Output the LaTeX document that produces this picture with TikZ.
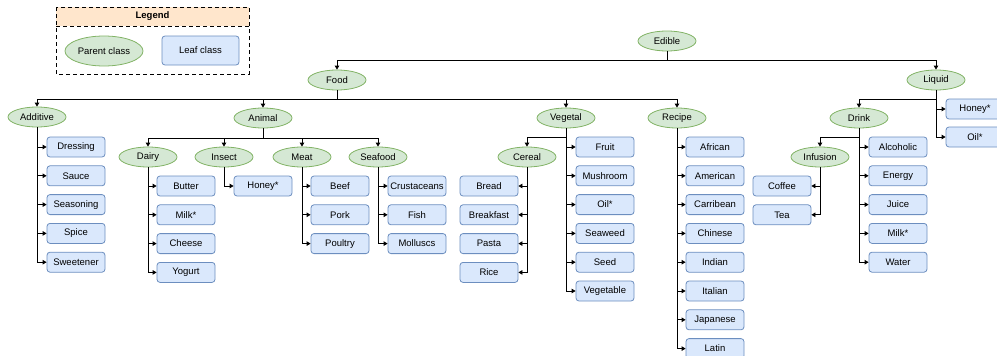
\documentclass[tikz,border=0pt]{standalone}
\usepackage{fontspec}
\setmainfont{Liberation Sans}
\usetikzlibrary{shapes.geometric,arrows.meta}
\definecolor{pgreen}{HTML}{82B366}
\definecolor{fgreen}{HTML}{D5E8D4}
\definecolor{pblue}{HTML}{6C8EBF}
\definecolor{fblue}{HTML}{DAE8FC}
\definecolor{forange}{HTML}{FFE6CC}
\newcommand{\fsz}{\fontsize{9.5}{11}\selectfont}
\tikzset{
  par/.style={ellipse, draw=pgreen, fill=fgreen, line width=0.8pt, minimum width=58pt, minimum height=20pt, inner sep=0pt, font=\fsz},
  leaf/.style={rectangle, rounded corners=3pt, draw=pblue, fill=fblue, line width=0.8pt, minimum width=58pt, minimum height=20pt, inner sep=0pt, font=\fsz},
  arr/.style={-{Triangle[length=4pt,width=4.5pt]}, line width=0.8pt, black},
  legendbox/.style={draw, dashed, dash pattern=on 4pt off 3pt, line width=0.8pt}
}
\begin{document}
\begin{tikzpicture}[x=1pt,y=-1pt]
\useasboundingbox (0,0) rectangle (997,356);
% legend
\fill[forange] (56,7) rectangle (249,26);
\draw[legendbox] (56,7) rectangle (249,74);
\draw[legendbox] (56,26) -- (249,26);
\node[font=\fsz\bfseries] (legtitle) at (152.5,16.5) {Legend};
\node[par, minimum width=78pt, minimum height=30pt] (legpar) at (104,51) {Parent class};
\node[leaf, minimum width=77pt, minimum height=29pt] (legleaf) at (200.5,50.5) {Leaf class};
% parent nodes
\node[par] (edible) at (667,41) {Edible};
\node[par] (food) at (337,80) {Food};
\node[par] (liquid) at (936,80) {Liquid};
\node[par] (additive) at (37,117) {Additive};
\node[par] (animal) at (263,118) {Animal};
\node[par] (vegetal) at (566,118) {Vegetal};
\node[par] (recipe) at (677,118) {Recipe};
\node[par] (drink) at (859,118) {Drink};
\node[par] (dairy) at (148,157) {Dairy};
\node[par] (insect) at (224,157) {Insect};
\node[par] (meat) at (302,157) {Meat};
\node[par] (seafood) at (378,157) {Seafood};
\node[par] (cereal) at (527,157) {Cereal};
\node[par] (infusion) at (820,157) {Infusion};
% leaves
\foreach \n/\t [count=\i from 0] in {dressing/Dressing,sauce/Sauce,seasoning/Seasoning,spice/Spice,sweetener/Sweetener}
  \node[leaf] (\n) at (76,147+28.8*\i) {\t};
\foreach \n/\t [count=\i from 0] in {butter/Butter,milkD/Milk*,cheese/Cheese,yogurt/Yogurt}
  \node[leaf] (\n) at (186,186+28.8*\i) {\t};
\node[leaf] (honeyA) at (263,186) {Honey*};
\foreach \n/\t [count=\i from 0] in {beef/Beef,pork/Pork,poultry/Poultry}
  \node[leaf] (\n) at (340,186+28.8*\i) {\t};
\foreach \n/\t [count=\i from 0] in {crust/Crustaceans,fish/Fish,molluscs/Molluscs}
  \node[leaf] (\n) at (417,186+28.8*\i) {\t};
\foreach \n/\t [count=\i from 0] in {bread/Bread,breakfast/Breakfast,pasta/Pasta,rice/Rice}
  \node[leaf] (\n) at (489,186+28.8*\i) {\t};
\foreach \n/\t [count=\i from 0] in {fruit/Fruit,mushroom/Mushroom,oilV/Oil*,seaweed/Seaweed,seed/Seed,vegetable/Vegetable}
  \node[leaf] (\n) at (605,147+28.8*\i) {\t};
\foreach \n/\t [count=\i from 0] in {african/African,american/American,carribean/Carribean,chinese/Chinese,indian/Indian,italian/Italian,japanese/Japanese,latin/Latin}
  \node[leaf] (\n) at (715,147+28.8*\i) {\t};
\foreach \n/\t [count=\i from 0] in {coffee/Coffee,tea/Tea}
  \node[leaf] (\n) at (782,186+28.8*\i) {\t};
\foreach \n/\t [count=\i from 0] in {alcoholic/Alcoholic,energy/Energy,juice/Juice,milkR/Milk*,water/Water}
  \node[leaf] (\n) at (898,147+28.8*\i) {\t};
\foreach \n/\t [count=\i from 0] in {honeyL/Honey*,oilL/Oil*}
  \node[leaf] (\n) at (975,109+28*\i) {\t};
% tree connectors
\foreach \c in {food,liquid} \draw[arr] (edible.south) -- ++(0,9) -| (\c.north);
\foreach \c in {additive,animal,vegetal,recipe} \draw[arr] (food.south) -- ++(0,9) -| (\c.north);
\foreach \c in {dairy,insect,meat,seafood} \draw[arr] (animal.south) -- ++(0,10) -| (\c.north);
\draw[arr] (vegetal.south) -- ++(0,9) -| (cereal.north);
\draw[arr] (liquid.south) -- ++(0,9) -| (drink.north);
\draw[arr] (drink.south) -- ++(0,9) -| (infusion.north);
% leaf connectors
\foreach \c in {dressing,sauce,seasoning,spice,sweetener} \draw[arr] (additive.south) |- (\c.west);
\foreach \c in {butter,milkD,cheese,yogurt} \draw[arr] (dairy.south) |- (\c.west);
\draw[arr] (insect.south) |- (honeyA.west);
\foreach \c in {beef,pork,poultry} \draw[arr] (meat.south) |- (\c.west);
\foreach \c in {crust,fish,molluscs} \draw[arr] (seafood.south) |- (\c.west);
\foreach \c in {bread,breakfast,pasta,rice} \draw[arr] (cereal.south) |- (\c.east);
\foreach \c in {fruit,mushroom,oilV,seaweed,seed,vegetable} \draw[arr] (vegetal.south) |- (\c.west);
\foreach \c in {african,american,carribean,chinese,indian,italian,japanese,latin} \draw[arr] (recipe.south) |- (\c.west);
\foreach \c in {coffee,tea} \draw[arr] (infusion.south) |- (\c.east);
\foreach \c in {alcoholic,energy,juice,milkR,water} \draw[arr] (drink.south) |- (\c.west);
\foreach \c in {honeyL,oilL} \draw[arr] (liquid.south) |- (\c.west);
\end{tikzpicture}
\end{document}
